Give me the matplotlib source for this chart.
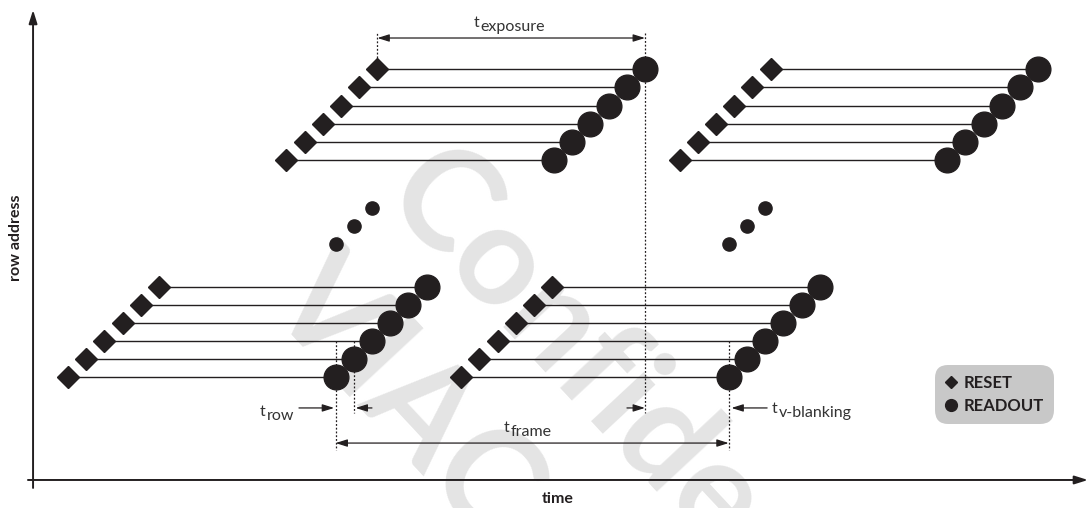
import matplotlib
matplotlib.use('Agg')
import matplotlib.pyplot as plt
from matplotlib.lines import Line2D

plt.rcParams['font.family'] = ['Lato', 'DejaVu Sans']

# timing, in units of one row period
T_ROW = 1.0
T_EXP = 14.7
T_FRAME = 21.6
frame_starts = [0.0, T_FRAME]
rows_low = [0, 1, 2, 3, 4, 5]
rows_high = [12, 13, 14, 15, 16, 17]
dot_rows = [7.35, 8.35, 9.35]

INK = '#231f20'

fig = plt.figure(figsize=(10.9, 5.08), dpi=100)
ax = fig.add_axes([0, 0, 1, 1])
ax.set_xlim(-3.736, 56.15)
ax.set_ylim(-7.238, 20.83)
ax.axis('off')

# watermark
ax.text(0.347, 0.608, 'Confidential', transform=fig.transFigure, rotation=-47,
        rotation_mode='anchor', ha='left', va='baseline', fontsize=100,
        weight='bold', color='#e4e4e4', zorder=0)
ax.text(0.242, 0.40, 'VIAC', transform=fig.transFigure, rotation=-47,
        rotation_mode='anchor', ha='left', va='baseline', fontsize=100,
        weight='bold', color='#e4e4e4', zorder=0)

# rolling shutter rows
for f0 in frame_starts:
    for block in (rows_low, rows_high):
        for r in block:
            t_reset = f0 + r * T_ROW
            t_read = t_reset + T_EXP
            ax.plot([t_reset, t_read], [r, r], color=INK, lw=1.0, zorder=2)
            ax.plot(t_reset, r, marker='D', ms=11.7, color=INK, ls='', zorder=4)
            ax.plot(t_read, r, marker='o', ms=17.8, color=INK, ls='', zorder=4)
    ax.plot([f0 + r * T_ROW + T_EXP / 2 for r in dot_rows], dot_rows,
            marker='o', ms=9.5, color=INK, ls='', zorder=4)

dot = dict(color=INK, lw=0.9, ls=(0, (1.5, 1.5)), zorder=1)
t_top_reset = rows_high[-1] * T_ROW
t_top_read = t_top_reset + T_EXP
t_first_read = T_EXP
t_second_read = T_EXP + T_ROW
t_next_read = T_FRAME + T_EXP

# dotted guide lines
ax.plot([t_top_reset, t_top_reset], [rows_high[-1], 19.0], **dot)
ax.plot([t_top_read, t_top_read], [19.0, -2.0], **dot)
ax.plot([t_first_read, t_first_read], [2, -4.03], **dot)
ax.plot([t_second_read, t_second_read], [2, -2.0], **dot)
ax.plot([t_next_read, t_next_read], [2, -4.03], **dot)

arr = dict(color=INK, lw=0.9, shrinkA=0, shrinkB=0)
double = dict(arrowstyle='<|-|>,head_length=0.7,head_width=0.22', **arr)
single = dict(arrowstyle='-|>,head_length=0.7,head_width=0.22', **arr)

ax.annotate('', xy=(t_top_read, 18.73), xytext=(t_top_reset, 18.73), arrowprops=double)
ax.annotate('', xy=(t_next_read, -3.65), xytext=(t_first_read, -3.65), arrowprops=double)
ax.annotate('', xy=(t_first_read - 0.08, -1.71), xytext=(12.69, -1.71), arrowprops=single)
ax.annotate('', xy=(t_second_read + 0.1, -1.71), xytext=(16.7, -1.71), arrowprops=single)
ax.annotate('', xy=(t_top_read, -1.71), xytext=(30.71, -1.71), arrowprops=single)
ax.annotate('', xy=(t_next_read + 0.15, -1.71), xytext=(38.41, -1.71), arrowprops=single)


def tlabel(x, y, sub):
    ax.text(x, y, 't', ha='right', va='baseline', fontsize=11.5, color='#333333')
    ax.annotate(sub, (x, y), xytext=(1.2, -3.2), textcoords='offset points',
                ha='left', va='baseline', fontsize=11.5, color='#333333')


tlabel(22.58, 19.34, 'exposure')
tlabel(10.82, -2.15, 'row')
tlabel(24.23, -3.04, 'frame')
tlabel(38.96, -1.99, 'v-blanking')

# axes with arrows
ax.annotate('', xy=(56.04, -5.69), xytext=(-2.2, -5.69),
            arrowprops=dict(arrowstyle='-|>,head_length=0.8,head_width=0.25',
                            color=INK, lw=1.4, shrinkA=0, shrinkB=0))
ax.annotate('', xy=(-1.92, 20.28), xytext=(-1.92, -6.13),
            arrowprops=dict(arrowstyle='-|>,head_length=0.8,head_width=0.25',
                            color=INK, lw=1.4, shrinkA=0, shrinkB=0))
fig.text(558 / 1090, 1 - 499 / 508, 'time', ha='center', va='center',
         fontsize=11.5, weight='bold', color=INK)
fig.text(16 / 1090, 1 - 238 / 508, 'row address', ha='center', va='center',
         rotation=90, fontsize=11.5, weight='bold', color=INK)

# legend
handles = [Line2D([], [], marker='D', ls='', color=INK, ms=6.5),
           Line2D([], [], marker='o', ls='', color=INK, ms=8.5)]
leg = ax.legend(handles, ['RESET', 'READOUT'], loc='upper left',
                bbox_to_anchor=(935 / 1090, 1 - 365 / 508), bbox_transform=fig.transFigure,
                borderaxespad=0, frameon=True, facecolor='#c8c8c8', edgecolor='none',
                framealpha=1, fancybox=True, handlelength=0.7, handletextpad=0.4,
                labelspacing=0.4, borderpad=0.6,
                prop={'weight': 'bold', 'size': 12})
leg.get_frame().set_boxstyle('round', pad=0, rounding_size=0.8)
for txt in leg.get_texts():
    txt.set_color(INK)

fig.savefig('out.png', dpi=100)
